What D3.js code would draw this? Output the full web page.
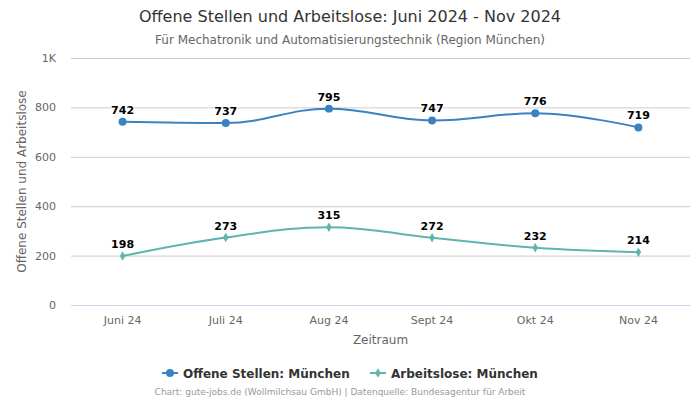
<!DOCTYPE html>
<html><head><meta charset="utf-8">
<script src="https://cdn.jsdelivr.net/npm/d3@7"></script>
<style>body{margin:0;background:#fff}svg{display:block;font-family:"DejaVu Sans",sans-serif}</style>
</head><body><svg id="c" width="700" height="400"></svg>
<script>
const categories = ["Juni 24","Juli 24","Aug 24","Sept 24","Okt 24","Nov 24"];
const offeneStellen = [742,737,795,747,776,719];
const arbeitslose = [198,273,315,272,232,214];
const yTicks = [0,200,400,600,800,1000];
const yTickLabels = ["0","200","400","600","800","1K"];
const seriesNames = ["Offene Stellen: München","Arbeitslose: München"];

const svg = d3.select("#c");
const L=71, R=690, T=58, B=305;
const x = d3.scaleBand().domain(categories).range([L,R]);
const y = d3.scaleLinear().domain([0,1000]).range([B,T]);
const cx = c => x(c)+x.bandwidth()/2;

svg.append("text").attr("x",350).attr("y",22).attr("text-anchor","middle").attr("font-size",16).attr("fill","#333").text("Offene Stellen und Arbeitslose: Juni 2024 - Nov 2024");
svg.append("text").attr("x",350).attr("y",44).attr("text-anchor","middle").attr("font-size",12).attr("fill","#666").text("Für Mechatronik und Automatisierungstechnik (Region München)");

// grid
const gy = svg.append("g").attr("transform",`translate(${L},0)`)
  .call(d3.axisLeft(y).tickValues(yTicks).tickSize(-(R-L)).tickFormat((d,i)=>yTickLabels[i]));
gy.select(".domain").remove();
gy.selectAll(".tick line").attr("stroke","#ccc").attr("stroke-width",1);
gy.selectAll(".tick text").attr("x",-15).attr("fill","#666").attr("font-size",11).attr("font-family","DejaVu Sans, sans-serif");

const gx = svg.append("g").attr("transform",`translate(0,${B})`).call(d3.axisBottom(x).tickSize(0).tickPadding(11));
gx.select(".domain").attr("stroke","#ccd6eb");
gx.selectAll(".tick text").attr("fill","#666").attr("font-size",11).attr("font-family","DejaVu Sans, sans-serif");

svg.append("text").attr("x",(L+R)/2).attr("y",344).attr("text-anchor","middle").attr("font-size",12).attr("fill","#666").text("Zeitraum");
svg.append("text").attr("transform",`translate(26,${(T+B)/2}) rotate(-90)`).attr("text-anchor","middle").attr("font-size",12).attr("fill","#666").text("Offene Stellen und Arbeitslose");

function splinePath(pts){
  const s=1.5, den=s+1, p=d3.path();
  const rc=[];
  pts.forEach((pt,i)=>{
    const [px,py]=pt; let lcx,lcy;
    if(i>0 && i<pts.length-1){
      const [lx,ly]=pts[i-1],[nx,ny]=pts[i+1];
      lcx=(s*px+lx)/den; lcy=(s*py+ly)/den;
      let rcx=(s*px+nx)/den, rcy=(s*py+ny)/den;
      const corr=((rcy-lcy)*(rcx-px))/(rcx-lcx)+py-rcy;
      lcy+=corr; rcy+=corr;
      if(lcy>ly&&lcy>py){lcy=Math.max(ly,py);rcy=2*py-lcy;}
      else if(lcy<ly&&lcy<py){lcy=Math.min(ly,py);rcy=2*py-lcy;}
      if(rcy>ny&&rcy>py){rcy=Math.max(ny,py);lcy=2*py-rcy;}
      else if(rcy<ny&&rcy<py){rcy=Math.min(ny,py);lcy=2*py-rcy;}
      rc[i]=[rcx,rcy];
    }
    if(i===0) p.moveTo(px,py);
    else {
      const prev=rc[i-1]||pts[i-1];
      p.bezierCurveTo(prev[0],prev[1], lcx===undefined?px:lcx, lcy===undefined?py:lcy, px,py);
    }
  });
  return p.toString();
}

const series=[
  {name:seriesNames[0], data:offeneStellen, color:"#3a82c0", symbol:d3.symbolCircle, size:50},
  {name:seriesNames[1], data:arbeitslose, color:"#5db5ae", symbol:d3.symbolDiamond, size:26}
];
series.forEach(s=>{
  const pts=s.data.map((v,i)=>[cx(categories[i]),y(v)]);
  svg.append("path").attr("d",splinePath(pts)).attr("fill","none").attr("stroke",s.color).attr("stroke-width",2);
  svg.selectAll(null).data(s.data).enter().append("path")
    .attr("d",d3.symbol().type(s.symbol).size(s.size))
    .attr("transform",(d,i)=>`translate(${cx(categories[i])},${y(d)})`).attr("fill",s.color);
  svg.selectAll(null).data(s.data).enter().append("text")
    .attr("x",(d,i)=>cx(categories[i])).attr("y",d=>y(d)-8)
    .attr("text-anchor","middle").attr("font-size",11).attr("font-weight","bold")
    .attr("fill","#000").attr("stroke","#fff").attr("stroke-width",2).attr("paint-order","stroke").attr("stroke-linejoin","round")
    .text(d=>d);
});

// legend
const leg=[{x:162,tx:183},{x:370,tx:391}];
series.forEach((s,i)=>{
  const g=svg.append("g");
  g.append("line").attr("x1",leg[i].x).attr("x2",leg[i].x+16).attr("y1",373).attr("y2",373).attr("stroke",s.color).attr("stroke-width",2);
  g.append("path").attr("d",d3.symbol().type(s.symbol).size(s.size)).attr("transform",`translate(${leg[i].x+8},373)`).attr("fill",s.color);
  g.append("text").attr("x",leg[i].tx).attr("y",377.5).attr("font-size",12).attr("font-weight","bold").attr("fill","#333").text(s.name);
});
svg.append("text").attr("x",340).attr("y",395).attr("text-anchor","middle").attr("font-size",9).attr("fill","#999").text("Chart: gute-jobs.de (Wollmilchsau GmbH) | Datenquelle: Bundesagentur für Arbeit");
</script></body></html>
